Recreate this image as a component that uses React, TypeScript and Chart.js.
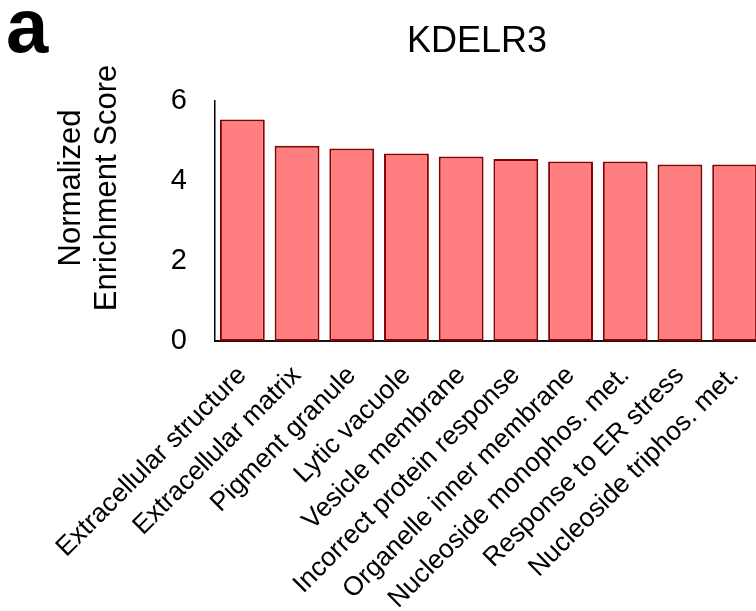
import React, { useEffect, useRef } from "react";
import { Chart, registerables } from "chart.js";

Chart.register(...registerables);

// Gene set enrichment for KDELR3 (top ten terms)
const categories: string[] = [
  "Extracellular structure",
  "Extracellular matrix",
  "Pigment granule",
  "Lytic vacuole",
  "Vesicle membrane",
  "Incorrect protein response",
  "Organelle inner membrane",
  "Nucleoside monophos. met.",
  "Response to ER stress",
  "Nucleoside triphos. met.",
];
const nesValues: number[] = [5.54, 4.88, 4.81, 4.69, 4.61, 4.55, 4.49, 4.49, 4.41, 4.41];
const yTicks: number[] = [0, 2, 4, 6];

const chartTitle = "KDELR3";
const panelLetter = "a";
const yTitleLines = ["Normalized", "Enrichment Score"];

const FONT = "'Liberation Sans', Arial, Helvetica, sans-serif";

// Panel letter, centred title and the two-line y-axis title drawn onto the canvas
const headerPlugin = {
  id: "header",
  afterDraw(chart: Chart) {
    const { ctx } = chart;
    ctx.save();
    ctx.fillStyle = "#000";
    ctx.textBaseline = "alphabetic";
    ctx.textAlign = "left";
    ctx.font = `bold 76px ${FONT}`;
    ctx.fillText(panelLetter, 6, 52);
    ctx.textAlign = "center";
    ctx.font = `36px ${FONT}`;
    ctx.fillText(chartTitle, 477, 52);

    ctx.font = `31px ${FONT}`;
    ctx.textBaseline = "middle";
    yTitleLines.forEach((line, i) => {
      ctx.save();
      ctx.translate(71 + i * 36, 188);
      ctx.rotate(-Math.PI / 2);
      ctx.fillText(line, 0, 0);
      ctx.restore();
    });
    ctx.restore();
  },
};

export default function App() {
  const ref = useRef<HTMLCanvasElement | null>(null);

  useEffect(() => {
    if (!ref.current) return;
    const chart = new Chart(ref.current, {
      type: "bar",
      data: {
        labels: categories,
        datasets: [
          {
            data: nesValues,
            backgroundColor: "rgb(255,127,128)",
            borderColor: "rgb(136,0,0)",
            borderWidth: 2,
            borderSkipped: false,
            categoryPercentage: 1,
            barPercentage: 0.82,
          },
        ],
      },
      options: {
        animation: false,
        responsive: false,
        devicePixelRatio: 1,
        layout: { padding: { top: 101, left: 0, right: 0, bottom: 0 } },
        plugins: {
          legend: { display: false },
          tooltip: { enabled: false },
          title: { display: false },
        },
        scales: {
          x: {
            grid: { display: false, drawTicks: false },
            border: { display: true, color: "#111", width: 2 },
            ticks: {
              color: "#000",
              font: { family: FONT, size: 26.5 },
              minRotation: 45,
              maxRotation: 45,
              autoSkip: false,
              padding: 19,
            },
            afterFit(scale: any) {
              scale.height = 611 - 341;
              scale.paddingLeft = 0;
              scale.paddingRight = 0;
            },
          },
          y: {
            min: 0,
            max: 6,
            afterBuildTicks(scale: any) {
              scale.ticks = yTicks.map((v) => ({ value: v }));
            },
            grid: { display: false, drawTicks: false },
            border: { display: true, color: "#000", width: 1.5 },
            ticks: {
              color: "#000",
              font: { family: FONT, size: 29 },
              padding: 28,
            },
            afterFit(scale: any) {
              scale.width = 215;
              scale.paddingTop = 0;
              scale.paddingBottom = 0;
            },
          },
        },
      },
      plugins: [headerPlugin],
    });
    return () => chart.destroy();
  }, []);

  return (
    <div
      style={{
        position: "absolute",
        left: 0,
        top: 0,
        width: 756,
        height: 611,
        overflow: "hidden",
        background: "#fff",
      }}
    >
      <canvas ref={ref} width={762} height={611} style={{ display: "block" }} />
    </div>
  );
}
